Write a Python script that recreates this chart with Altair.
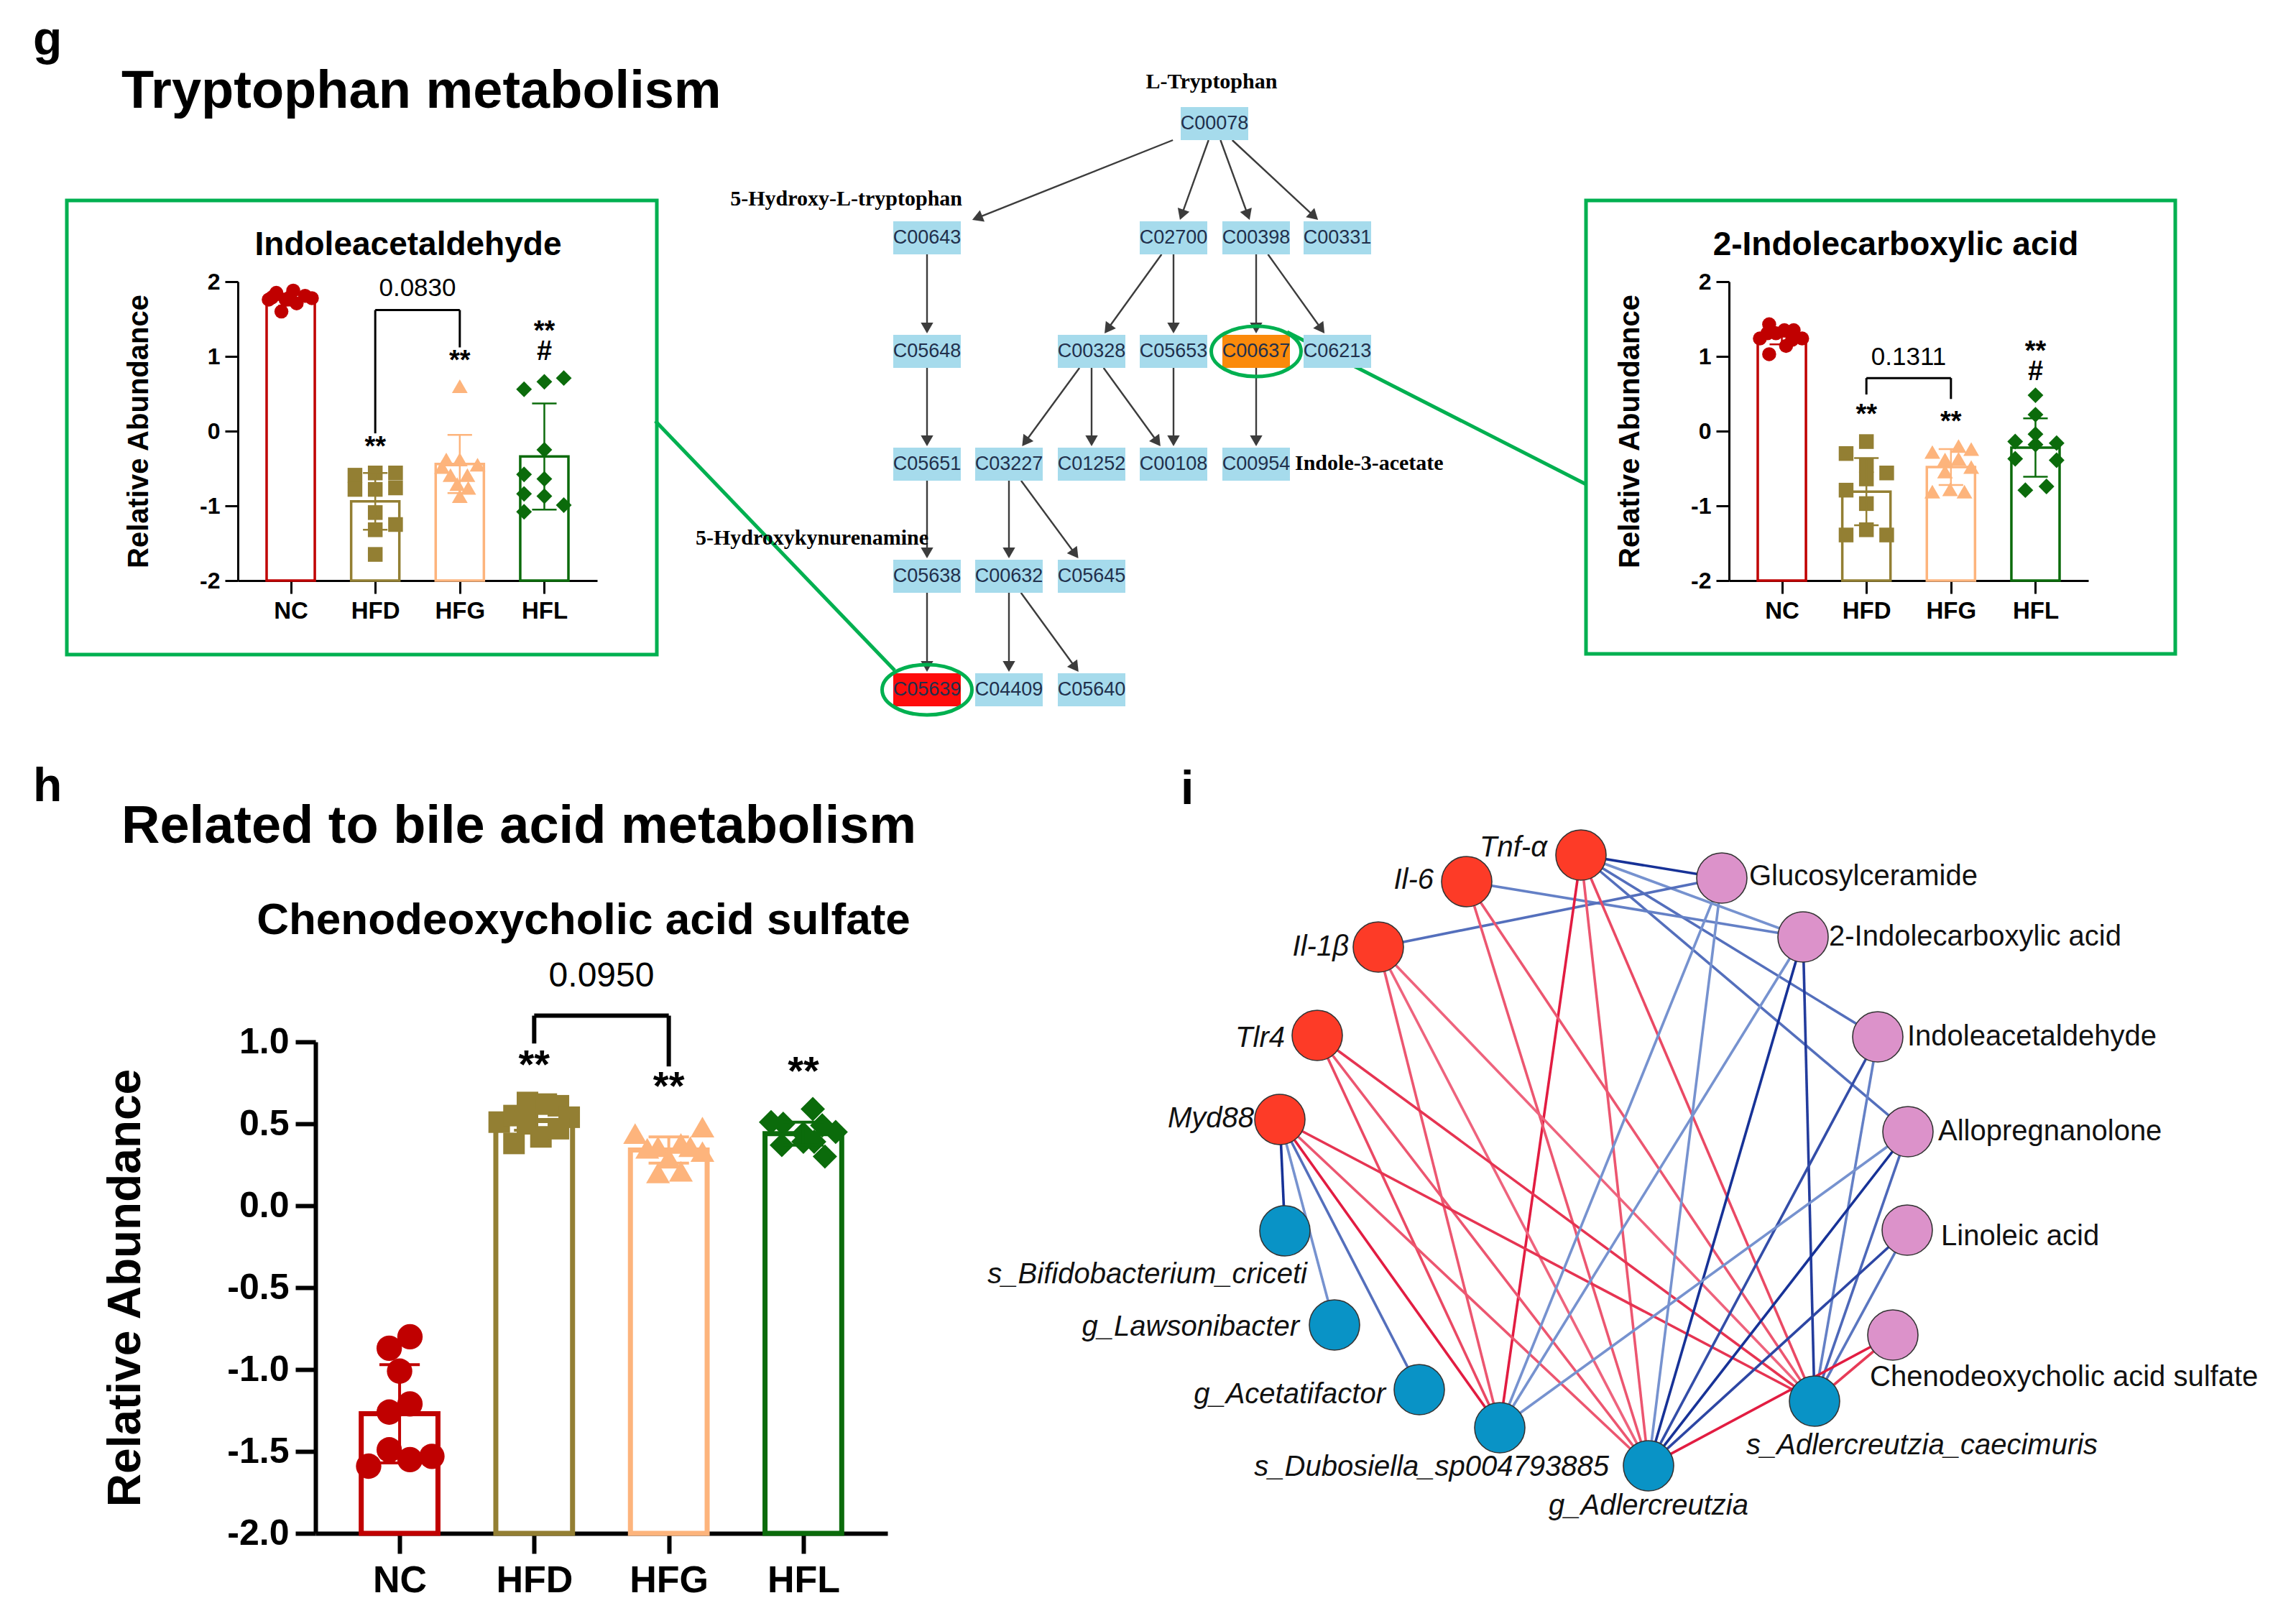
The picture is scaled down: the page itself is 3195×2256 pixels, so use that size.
import altair as alt
import numpy as np
import pandas as pd

FONT = "Liberation Sans"
SERIF = "Liberation Serif"
GREEN = "#00b050"

GROUPS = ["NC", "HFD", "HFG", "HFL"]
GROUP_COLORS = ["#c00000", "#937f33", "#fdb47c", "#0b6b0b"]
GROUP_SHAPES = ["circle", "square", "triangle-up", "diamond"]

# ---------------- g (left): Indoleacetaldehyde ----------------
ia_mean = [1.76, -0.94, -0.44, -0.34]
ia_sd = [0.08, 0.38, 0.39, 0.71]
ia_NC = [1.76, 1.85, 1.76, 1.88, 1.71, 1.81, 1.78, 1.60, 1.79, 1.79]
ia_NC_dx = [-0.26, -0.17, -0.06, 0.03, 0.07, 0.17, 0.25, -0.11, -0.01, -0.22]
ia_HFD = [-0.59, -0.56, -0.56, -0.78, -0.78, -0.76, -1.09, -1.25, -1.32, -1.65]
ia_HFD_dx = [-0.24, 0, 0.24, -0.24, 0, 0.24, 0, 0.24, 0, 0]
ia_HFG = [0.60, -0.48, -0.38, -0.45, -0.59, -0.59, -0.71, -0.76, -0.87, -0.38]
ia_HFG_dx = [0, -0.21, 0, 0.21, -0.11, 0.09, -0.03, 0.10, 0, -0.16]
ia_HFL = [0.56, 0.66, 0.71, -0.25, -0.58, -0.64, -0.84, -0.87, -1.08, -0.99]
ia_HFL_dx = [-0.24, 0, 0.23, 0, -0.24, 0, -0.24, 0, -0.24, 0.23]
ia_ann_x = [1, 2, 3]
ia_ann_y = [-0.22, 0.93, 1.33]
ia_ann_t = ["**", "**", "**\n#"]
ia_bracket = [1, 2, 1.62, -0.03, 1.12]
ia_p = ["0.0830", 1.91]

# ---------------- g (right): 2-Indolecarboxylic acid ----------------
ic_mean = [1.27, -0.81, -0.48, -0.22]
ic_sd = [0.11, 0.45, 0.24, 0.39]
ic_NC = [1.43, 1.24, 1.31, 1.35, 1.35, 1.24, 1.03, 1.14, 1.22, 1.31]
ic_NC_dx = [-0.15, -0.26, -0.07, 0.03, 0.14, 0.24, -0.15, 0.05, 0.12, -0.17]
ic_HFD = [-0.14, -0.30, -0.46, -0.56, -0.64, -0.79, -0.97, -1.32, -1.39, -1.39]
ic_HFD_dx = [0, -0.24, 0, 0.24, 0, -0.24, 0, 0, -0.24, 0.24]
ic_HFG = [-0.28, -0.20, -0.24, -0.38, -0.37, -0.48, -0.54, -0.81, -0.78, -0.81]
ic_HFG_dx = [-0.22, 0.09, 0.24, -0.07, 0.09, 0.24, -0.07, -0.22, -0.01, 0.16]
ic_HFL = [0.48, 0.22, -0.04, -0.14, -0.18, -0.16, -0.37, -0.39, -0.74, -0.79]
ic_HFL_dx = [0, 0, 0, -0.24, 0, 0.25, -0.24, 0.25, 0.13, -0.12]
ic_ann_x = [1, 2, 3]
ic_ann_y = [0.21, 0.12, 1.06]
ic_ann_t = ["**", "**", "**\n#"]
ic_bracket = [1, 2, 0.71, 0.49, 0.43]
ic_p = ["0.1311", 0.99]

# ---------------- h: Chenodeoxycholic acid sulfate ----------------
cd_mean = [-1.27, 0.52, 0.34, 0.44]
cd_sd = [0.30, 0.06, 0.08, 0.07]
cd_NC = [-0.80, -0.87, -1.01, -1.21, -1.26, -1.49, -1.55, -1.53, -1.59]
cd_NC_dx = [0.077, -0.077, 0, 0.077, -0.077, -0.077, 0.077, 0.24, -0.23]
cd_HFD = [0.51, 0.55, 0.63, 0.62, 0.61, 0.54, 0.38, 0.42, 0.47, 0.50]
cd_HFD_dx = [-0.26, -0.15, -0.05, 0.09, 0.18, 0.26, -0.15, 0.05, 0.18, -0.05]
cd_HFG = [0.44, 0.48, 0.35, 0.36, 0.38, 0.36, 0.33, 0.20, 0.21, 0.29]
cd_HFG_dx = [-0.25, 0.25, -0.16, -0.08, 0.09, 0.16, 0.25, -0.08, 0.09, 0]
cd_HFL = [0.59, 0.51, 0.50, 0.49, 0.45, 0.44, 0.37, 0.39, 0.39, 0.30]
cd_HFL_dx = [0.07, -0.24, -0.15, 0.14, 0.24, 0, -0.16, 0, 0.08, 0.16]
cd_ann_x = [1, 2, 3]
cd_ann_y = [0.855, 0.725, 0.815]
cd_ann_t = ["**", "**", "**"]
cd_bracket = [1, 2, 1.16, 0.99, 0.85]
cd_p = ["0.0950", 1.40]

# ---------------- pathway diagram (canvas px) ----------------
pw_code = ["C00078",
           "C00643", "C02700", "C00398", "C00331",
           "C05648", "C00328", "C05653", "C00637", "C06213",
           "C05651", "C03227", "C01252", "C00108", "C00954",
           "C05638", "C00632", "C05645",
           "C05639", "C04409", "C05640"]
pw_x = [1690,
        1290, 1633, 1748, 1861,
        1290, 1519, 1633, 1748, 1861,
        1290, 1404, 1519, 1633, 1748,
        1290, 1404, 1519,
        1290, 1404, 1519]
pw_y = [172,
        331, 331, 331, 331,
        489, 489, 489, 489, 489,
        646, 646, 646, 646, 646,
        802, 802, 802,
        960, 960, 960]
pw_state = ["n"] * 8 + ["up"] + ["n"] * 9 + ["down"] + ["n"] * 2
pw_edges = [("C00078", "C00643"), ("C00078", "C02700"), ("C00078", "C00398"), ("C00078", "C00331"),
            ("C00643", "C05648"), ("C02700", "C00328"), ("C02700", "C05653"),
            ("C00398", "C00637"), ("C00398", "C06213"),
            ("C05648", "C05651"), ("C00328", "C03227"), ("C00328", "C01252"), ("C00328", "C00108"),
            ("C05653", "C00108"), ("C00637", "C00954"),
            ("C05651", "C05638"), ("C03227", "C00632"), ("C03227", "C05645"),
            ("C05638", "C05639"), ("C00632", "C04409"), ("C00632", "C05640")]
pw_label = ["L-Tryptophan", "5-Hydroxy-L-tryptophan", "Indole-3-acetate", "5-Hydroxykynurenamine"]
pw_label_x = [1686, 1339, 1802, 1130]
pw_label_y = [114, 277, 645, 749]
pw_label_align = ["center", "right", "left", "center"]

# ---------------- network (canvas px) ----------------
net_name = ["Tnf-α", "Il-6", "Il-1β", "Tlr4", "Myd88",
            "s_Bifidobacterium_criceti", "g_Lawsonibacter", "g_Acetatifactor",
            "s_Dubosiella_sp004793885", "g_Adlercreutzia", "s_Adlercreutzia_caecimuris",
            "Glucosylceramide", "2-Indolecarboxylic acid", "Indoleacetaldehyde",
            "Allopregnanolone", "Linoleic acid", "Chenodeoxycholic acid sulfate"]
net_kind = ["gene"] * 5 + ["microbe"] * 6 + ["metabolite"] * 6
net_x = [2200, 2041, 1918, 1833, 1781, 1788, 1857, 1975, 2087, 2294, 2525, 2396, 2509, 2613, 2655, 2654, 2634]
net_y = [1190, 1227, 1318, 1441, 1558, 1713, 1844, 1934, 1987, 2040, 1950, 1222, 1304, 1443, 1575, 1712, 1858]
net_lab_x = [2153, 1995, 1877, 1788, 1745, 1819, 1808, 1928, 2239, 2294, 2430, 2434, 2545, 2654, 2697, 2701, 2602]
net_lab_y = [1180, 1225, 1318, 1445, 1557, 1774, 1847, 1941, 2042, 2096, 2012, 1220, 1304, 1443, 1575, 1721, 1917]
net_lab_align = ["right"] * 9 + ["center", "left"] + ["left"] * 6
net_edges = [
    ("Tnf-α", "Glucosylceramide", -0.88), ("Tnf-α", "2-Indolecarboxylic acid", -0.6),
    ("Tnf-α", "Indoleacetaldehyde", -0.7), ("Tnf-α", "Allopregnanolone", -0.7),
    ("Il-6", "2-Indolecarboxylic acid", -0.65), ("Il-1β", "Glucosylceramide", -0.7),
    ("Myd88", "s_Bifidobacterium_criceti", -0.88), ("Myd88", "g_Lawsonibacter", -0.6),
    ("Myd88", "g_Acetatifactor", -0.7),
    ("Tnf-α", "s_Dubosiella_sp004793885", 0.88), ("Tnf-α", "g_Adlercreutzia", 0.7),
    ("Tnf-α", "s_Adlercreutzia_caecimuris", 0.75),
    ("Il-6", "g_Adlercreutzia", 0.7), ("Il-6", "s_Adlercreutzia_caecimuris", 0.7),
    ("Il-1β", "s_Dubosiella_sp004793885", 0.7), ("Il-1β", "g_Adlercreutzia", 0.65),
    ("Il-1β", "s_Adlercreutzia_caecimuris", 0.65),
    ("Tlr4", "s_Dubosiella_sp004793885", 0.75), ("Tlr4", "g_Adlercreutzia", 0.7),
    ("Tlr4", "s_Adlercreutzia_caecimuris", 0.82),
    ("Myd88", "s_Dubosiella_sp004793885", 0.88), ("Myd88", "g_Adlercreutzia", 0.7),
    ("Myd88", "s_Adlercreutzia_caecimuris", 0.82),
    ("Glucosylceramide", "s_Dubosiella_sp004793885", -0.6), ("Glucosylceramide", "g_Adlercreutzia", -0.6),
    ("2-Indolecarboxylic acid", "s_Dubosiella_sp004793885", -0.6),
    ("2-Indolecarboxylic acid", "g_Adlercreutzia", -0.88),
    ("2-Indolecarboxylic acid", "s_Adlercreutzia_caecimuris", -0.85),
    ("Indoleacetaldehyde", "g_Adlercreutzia", -0.8), ("Indoleacetaldehyde", "s_Adlercreutzia_caecimuris", -0.65),
    ("Allopregnanolone", "s_Dubosiella_sp004793885", -0.6), ("Allopregnanolone", "g_Adlercreutzia", -0.88),
    ("Allopregnanolone", "s_Adlercreutzia_caecimuris", -0.72),
    ("Linoleic acid", "g_Adlercreutzia", -0.82), ("Linoleic acid", "s_Adlercreutzia_caecimuris", -0.68),
    ("Chenodeoxycholic acid sulfate", "g_Adlercreutzia", 0.88),
    ("Chenodeoxycholic acid sulfate", "s_Adlercreutzia_caecimuris", 0.8),
]

# ---------------- headings and frames (canvas px) ----------------
head_text = ["g", "Tryptophan metabolism", "h", "Related to bile acid metabolism", "i"]
head_x = [46, 169, 46, 169, 1643]
head_y = [76, 150, 1115, 1173, 1119]
head_fs = [66, 74, 66, 74, 66]
sub_text = ["Indoleacetaldehyde", "2-Indolecarboxylic acid", "Chenodeoxycholic acid sulfate"]
sub_x = [568, 2638, 812]
sub_y = [355, 355, 1300]
sub_fs = [46, 46, 62]
box_x0 = [93, 2207]
box_x1 = [914, 3027]
box_y0 = [279, 279]
box_y1 = [911, 910]
link_x0 = [912, 1791]
link_y0 = [586, 462]
link_x1 = [1245, 2207]
link_y1 = [933, 674]
ring_code = ["C00637", "C05639"]


# =====================================================================
def bar_panel(mean, sd, pts, dxs, ann_x, ann_y, ann_t, bracket, pval, ydom, yvals, yfmt, W, H, st):
    xs = alt.Scale(domain=[-0.625, 3.625], nice=False, zero=False)
    ys = alt.Scale(domain=ydom, nice=False, zero=False)
    cscale = alt.Scale(domain=GROUPS, range=GROUP_COLORS)
    lab = " : ".join(f"datum.value == {i} ? '{g}'" for i, g in enumerate(GROUPS)) + " : ''"
    common = dict(grid=False, domainColor="black", domainWidth=st["lw"], tickColor="black",
                  tickWidth=st["lw"], tickSize=st["tick"], labelFont=FONT, labelFontWeight="bold",
                  labelColor="black", labelFlush=False, labelOverlap=False)
    xaxis = alt.Axis(values=[0, 1, 2, 3], labelExpr=lab, title=None, labelFontSize=st["xfs"],
                     labelPadding=st["xpad"], **common)
    yaxis = alt.Axis(values=yvals, labelExpr=f"replace(format(datum.value, '{yfmt}'), '\u2212', '-')",
                     title="Relative Abundance", titleFont=FONT, titleFontWeight="bold",
                     titleFontSize=st["tfs"], titleColor="black", titlePadding=st["tpad"],
                     labelFontSize=st["yfs"], labelPadding=st["ypad"], **common)

    def X(f):
        return alt.X(f, type="quantitative", scale=xs, axis=xaxis)

    def Y(f):
        return alt.Y(f, type="quantitative", scale=ys, axis=yaxis)

    summ = pd.DataFrame({"g": GROUPS, "xi": [0, 1, 2, 3], "m": mean, "sd": sd, "base": [ydom[0]] * 4})
    rows = []
    for gi, g in enumerate(GROUPS):
        for v, d in zip(pts[gi], dxs[gi]):
            rows.append({"g": g, "xp": gi + d, "v": v, "sz": st["sizes"][gi]})
    pdf = pd.DataFrame(rows)

    bars = alt.Chart(summ).transform_calculate(
        xl=f"datum.xi - {st['hw']}", xr=f"datum.xi + {st['hw']}"
    ).mark_rect(fill="white", strokeWidth=st["bw"]).encode(
        x=X("xl"), x2="xr:Q", y=Y("m"), y2="base:Q",
        stroke=alt.Stroke("g:N", scale=cscale, legend=None))
    pts_l = alt.Chart(pdf).mark_point(filled=True, opacity=1).encode(
        x=X("xp"), y=Y("v"),
        color=alt.Color("g:N", scale=cscale, legend=None),
        shape=alt.Shape("g:N", scale=alt.Scale(domain=GROUPS, range=GROUP_SHAPES), legend=None),
        size=alt.Size("sz:Q", scale=None, legend=None))
    ebar = alt.Chart(summ).transform_calculate(
        lo="datum.m - datum.sd", hi="datum.m + datum.sd"
    ).mark_rule(strokeWidth=st["ew"]).encode(
        x=X("xi"), y=Y("lo"), y2="hi:Q", color=alt.Color("g:N", scale=cscale, legend=None))
    cap_hi = alt.Chart(summ).transform_calculate(
        xl=f"datum.xi - {st['cw']}", xr=f"datum.xi + {st['cw']}", hi="datum.m + datum.sd"
    ).mark_rule(strokeWidth=st["ew"]).encode(
        x=X("xl"), x2="xr:Q", y=Y("hi"), color=alt.Color("g:N", scale=cscale, legend=None))
    cap_lo = alt.Chart(summ).transform_calculate(
        xl=f"datum.xi - {st['cw']}", xr=f"datum.xi + {st['cw']}", lo="datum.m - datum.sd"
    ).mark_rule(strokeWidth=st["ew"]).encode(
        x=X("xl"), x2="xr:Q", y=Y("lo"), color=alt.Color("g:N", scale=cscale, legend=None))

    i1, i2, top, e1, e2 = bracket
    br = pd.DataFrame({"a": [i1, i1, i2], "b": [i2, i1, i2], "ya": [top, top, top], "yb": [top, e1, e2]})
    br_l = alt.Chart(br).mark_rule(color="black", strokeWidth=st["brw"]).encode(
        x=X("a"), x2="b:Q", y=Y("ya"), y2="yb:Q")
    adf = pd.DataFrame({"xp": ann_x, "v": ann_y, "t": ann_t})
    ann_l = alt.Chart(adf).mark_text(font=FONT, fontWeight="bold", fontSize=st["afs"], baseline="middle",
                                     lineBreak="\n", lineHeight=st["alh"],
                                     color="black").encode(x=X("xp"), y=Y("v"), text="t:N")
    pdf2 = pd.DataFrame({"xp": [(i1 + i2) / 2], "v": [pval[1]], "t": [pval[0]]})
    p_l = alt.Chart(pdf2).mark_text(font=FONT, fontSize=st["pfs"], baseline="middle",
                                    color="black").encode(x=X("xp"), y=Y("v"), text="t:N")
    return alt.layer(bars, pts_l, ebar, cap_hi, cap_lo, br_l, ann_l, p_l).properties(width=W, height=H)


TOP = dict(lw=3, tick=18, xfs=33, yfs=32, xpad=8, ypad=7, tfs=40, tpad=64, bw=3.5, hw=0.285, cw=0.145,
           ew=2.5, sizes=[380, 420, 480, 480], brw=3, afs=38, alh=28, pfs=35)
BOT = dict(lw=6, tick=28, xfs=52, yfs=50, xpad=12, ypad=9, tfs=64, tpad=108, bw=7, hw=0.285, cw=0.15,
           ew=4, sizes=[1250, 900, 1100, 1150], brw=6, afs=56, alh=56, pfs=48)

chart_a = bar_panel(ia_mean, ia_sd, [ia_NC, ia_HFD, ia_HFG, ia_HFL],
                    [ia_NC_dx, ia_HFD_dx, ia_HFG_dx, ia_HFL_dx],
                    ia_ann_x, ia_ann_y, ia_ann_t, ia_bracket, ia_p,
                    [-2, 2], [-2, -1, 0, 1, 2], "d", 500, 416, TOP)
chart_c = bar_panel(ic_mean, ic_sd, [ic_NC, ic_HFD, ic_HFG, ic_HFL],
                    [ic_NC_dx, ic_HFD_dx, ic_HFG_dx, ic_HFL_dx],
                    ic_ann_x, ic_ann_y, ic_ann_t, ic_bracket, ic_p,
                    [-2, 2], [-2, -1, 0, 1, 2], "d", 500, 416, TOP)
chart_d = bar_panel(cd_mean, cd_sd, [cd_NC, cd_HFD, cd_HFG, cd_HFL],
                    [cd_NC_dx, cd_HFD_dx, cd_HFG_dx, cd_HFL_dx],
                    cd_ann_x, cd_ann_y, cd_ann_t, cd_bracket, cd_p,
                    [-2, 1], [-2, -1.5, -1, -0.5, 0, 0.5, 1], ".1f", 796, 684, BOT)

# =====================================================================
# canvas view (middle of top row); its scales are in page pixels
CX = [831, 2406]
CY = [392, 808]
xs_c = alt.Scale(domain=CX, nice=False, zero=False)
ys_c = alt.Scale(domain=CY, reverse=True, nice=False, zero=False)


def cx(f):
    return alt.X(f, type="quantitative", scale=xs_c, axis=None)


def cy(f):
    return alt.Y(f, type="quantitative", scale=ys_c, axis=None)


def text_layer(df, align, weight="normal", style="normal", font=FONT, color="black", baseline="middle"):
    return alt.Chart(df).mark_text(align=align, baseline=baseline, fontWeight=weight, fontStyle=style,
                                   font=font, color=color).encode(
        x=cx("x"), y=cy("y"), text="t:N", size=alt.Size("fs:Q", scale=None, legend=None))


layers = []
layers.append(alt.Chart(pd.DataFrame({"x": [8.5], "y": [8.5]})).mark_square(size=1, color="white", opacity=1)
              .encode(x=cx("x"), y=cy("y")))

# green frames and links
layers.append(alt.Chart(pd.DataFrame({"x": box_x0, "x2": box_x1, "y": box_y0, "y2": box_y1}))
              .mark_rect(fillOpacity=0, stroke=GREEN, strokeWidth=5)
              .encode(x=cx("x"), x2="x2:Q", y=cy("y"), y2="y2:Q"))
layers.append(alt.Chart(pd.DataFrame({"x": link_x0, "x2": link_x1, "y": link_y0, "y2": link_y1}))
              .mark_rule(color=GREEN, strokeWidth=5)
              .encode(x=cx("x"), x2="x2:Q", y=cy("y"), y2="y2:Q"))

# pathway arrows
BOX_W, BOX_H = 94, 46
node_pos = {c: (x, y) for c, x, y in zip(pw_code, pw_x, pw_y)}
seg, heads = [], []
for a, b in pw_edges:
    x0, y0 = node_pos[a]
    x1, y1 = node_pos[b]
    dx, dy = x1 - x0, y1 - y0
    L = float(np.hypot(dx, dy))
    ux, uy = dx / L, dy / L
    t0 = (BOX_H / 2) / dy
    t1 = 1 - (BOX_H / 2 + 2) / dy
    sx, sy = x0 + t0 * dx, y0 + t0 * dy
    ex, ey = x0 + t1 * dx, y0 + t1 * dy
    seg.append({"x": sx, "y": sy, "x2": ex - ux * 8, "y2": ey - uy * 8})
    heads.append({"x": ex - ux * 7.5, "y": ey - uy * 7.5,
                  "ang": (float(np.degrees(np.arctan2(dx, -dy))) + 360) % 360})
layers.append(alt.Chart(pd.DataFrame(seg)).mark_rule(color="#3c3c3c", strokeWidth=2.4)
              .encode(x=cx("x"), x2="x2:Q", y=cy("y"), y2="y2:Q"))
layers.append(alt.Chart(pd.DataFrame(heads)).mark_point(shape="triangle-up", filled=True, size=300,
                                                        color="#3c3c3c", opacity=1)
              .encode(x=cx("x"), y=cy("y"), angle=alt.Angle("ang:Q", scale=None)))

# pathway boxes
pw_df = pd.DataFrame({"code": pw_code, "x": pw_x, "y": pw_y, "state": pw_state})
layers.append(alt.Chart(pw_df).transform_calculate(
    x0=f"datum.x - {BOX_W / 2}", x1=f"datum.x + {BOX_W / 2}",
    y0=f"datum.y - {BOX_H / 2}", y1=f"datum.y + {BOX_H / 2}"
).mark_rect(opacity=1).encode(
    x=cx("x0"), x2="x1:Q", y=cy("y0"), y2="y1:Q",
    color=alt.Color("state:N", scale=alt.Scale(domain=["n", "up", "down"],
                                               range=["#a6dbec", "#fb8a0b", "#fe0c0c"]), legend=None)))
layers.append(alt.Chart(pw_df.assign(fs=27)).mark_text(font=FONT, baseline="middle", align="center",
                                                       color="#22304c")
              .encode(x=cx("x"), y=cy("y"), text="code:N", size=alt.Size("fs:Q", scale=None, legend=None)))

# green rings around the two highlighted compounds
ring_df = pw_df[pw_df["code"].isin(ring_code)]
layers.append(alt.Chart(ring_df).mark_point(
    shape="M -1 0 A 1 0.56 0 1 1 1 0 A 1 0.56 0 1 1 -1 0 Z", size=15625, filled=False,
    stroke=GREEN, strokeWidth=5, opacity=1).encode(x=cx("x"), y=cy("y")))

# pathway compound names
pl_df = pd.DataFrame({"t": pw_label, "x": pw_label_x, "y": pw_label_y, "al": pw_label_align, "fs": 30})
for al in ["left", "center", "right"]:
    sub = pl_df[pl_df["al"] == al]
    layers.append(text_layer(sub, al, weight="bold", font=SERIF))

# network edges
npos = {n: (x, y) for n, x, y in zip(net_name, net_x, net_y)}
edf = pd.DataFrame([{"x": npos[a][0], "y": npos[a][1], "x2": npos[b][0], "y2": npos[b][1], "r": r}
                    for a, b, r in net_edges])
layers.append(alt.Chart(edf).mark_rule(strokeWidth=3.6).encode(
    x=cx("x"), x2="x2:Q", y=cy("y"), y2="y2:Q",
    color=alt.Color("r:Q", scale=alt.Scale(domain=[-0.9, -0.55, 0.55, 0.9],
                                           range=["#0e2b92", "#88a3d8", "#f07a94", "#e0103c"]),
                    legend=None)))
ndf = pd.DataFrame({"n": net_name, "kind": net_kind, "x": net_x, "y": net_y})
layers.append(alt.Chart(ndf).mark_circle(size=4900, stroke="#333333", strokeWidth=1.6, opacity=1).encode(
    x=cx("x"), y=cy("y"),
    color=alt.Color("kind:N", scale=alt.Scale(domain=["gene", "microbe", "metabolite"],
                                              range=["#fd3b27", "#0993c6", "#dc92ca"]), legend=None)))
nl_df = pd.DataFrame({"t": net_name, "x": net_lab_x, "y": net_lab_y, "al": net_lab_align,
                      "kind": net_kind, "fs": 40})
for al in ["left", "center", "right"]:
    it = nl_df[(nl_df["al"] == al) & (nl_df["kind"] != "metabolite")]
    if len(it):
        layers.append(text_layer(it, al, style="italic", color="#111111"))
    nm = nl_df[(nl_df["al"] == al) & (nl_df["kind"] == "metabolite")]
    if len(nm):
        layers.append(text_layer(nm, al, color="#111111"))

# headings
layers.append(text_layer(pd.DataFrame({"t": head_text, "x": head_x, "y": head_y, "fs": head_fs}),
                         "left", weight="bold", baseline="alphabetic"))
layers.append(text_layer(pd.DataFrame({"t": sub_text, "x": sub_x, "y": sub_y, "fs": sub_fs}),
                         "center", weight="bold", baseline="alphabetic"))

canvas = alt.layer(*layers).properties(width=CX[1] - CX[0], height=CY[1] - CY[0])

spacer = alt.Chart(pd.DataFrame({"a": [0]})).mark_point(opacity=0).encode(
    x=alt.value(0), y=alt.value(0)).properties(width=108, height=10)

ROW1_H = CY[1] - CY[0]
ROW_GAP = 1450 - CY[1]
row1 = alt.hconcat(chart_a, canvas, chart_c, spacing=0, bounds="flush")
row2 = alt.hconcat(spacer, chart_d, spacing=0, bounds="flush")
chart = alt.vconcat(row1, row2, spacing=ROW1_H + ROW_GAP, bounds="flush").properties(
    padding=0, background="white"
).configure(font=FONT).configure_view(strokeWidth=0, strokeOpacity=0)

chart.save("out.html", embed_options={"renderer": "svg", "actions": False})
